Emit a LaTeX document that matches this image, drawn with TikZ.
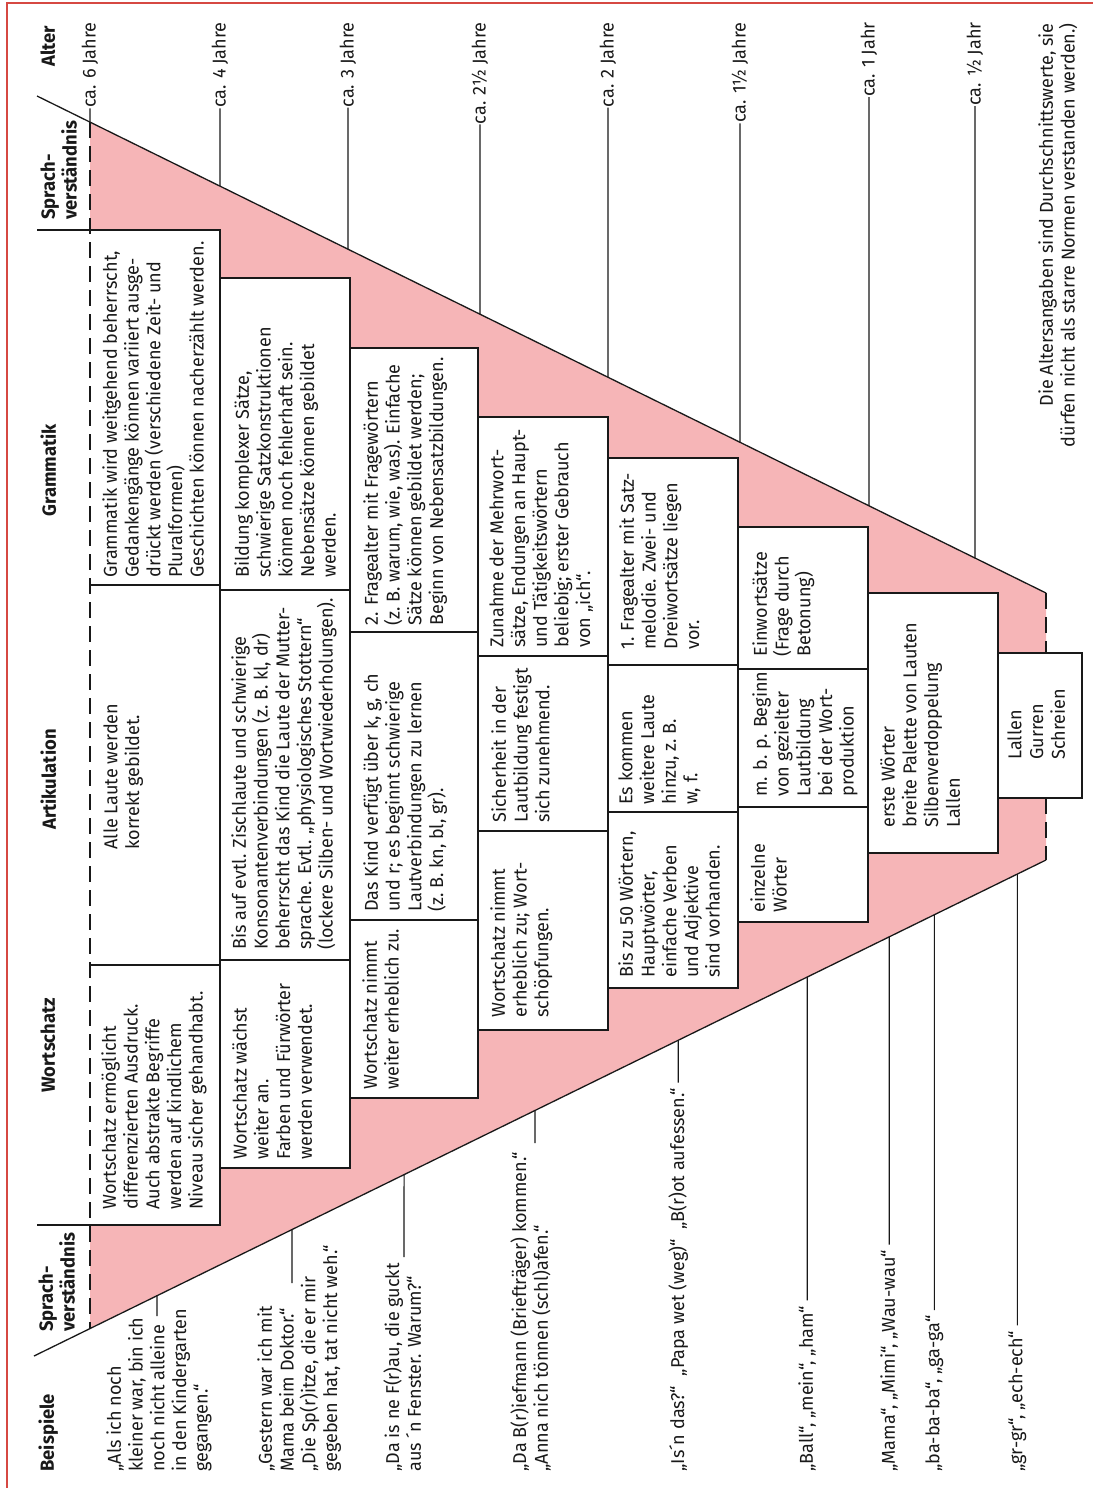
\documentclass[tikz,border=0pt]{standalone}
\usepackage{fontspec}
\setmainfont[FakeStretch=0.97]{Fira Sans}
\usetikzlibrary{calc}
\definecolor{pinkfill}{RGB}{246,181,183}
\definecolor{framered}{RGB}{214,72,66}
\definecolor{ink}{RGB}{25,25,25}
\newcommand\bodyfs{\fontsize{9.3}{10.85}\selectfont}
\newcommand\headfs{\fontsize{9.5}{10.85}\selectfont\bfseries}
\begin{document}
\begin{tikzpicture}[x=0.5pt,y=-0.5pt,
  txt/.style={rotate=90,anchor=north west,inner sep=0pt,align=left,font=\bodyfs,text=ink},
  hdr/.style={rotate=90,anchor=north west,inner sep=0pt,align=left,font=\headfs,text=ink},
  agelab/.style={rotate=90,anchor=east,inner sep=0pt,font=\bodyfs,text=ink},
  note/.style={rotate=90,anchor=north east,inner sep=0pt,align=right,font=\bodyfs,text=ink},
  rule/.style={draw=ink,line width=0.55pt},
  diag/.style={draw=ink,line width=0.65pt},
  dashline/.style={draw=ink,line width=0.55pt,dash pattern=on 8pt off 4pt},
  conn/.style={draw=ink,line width=0.55pt}]
\useasboundingbox (0,0) rectangle (1093,1488);
% frame
\draw[framered,line width=0.8pt] (7,1488) -- (7,3) -- (1093,3);
% diagonal anchors
\coordinate (U0) at (37,96);
\coordinate (U1) at (90,122);
\coordinate (U2) at (1046,593);
\coordinate (L0) at (34,1356);
\coordinate (L1) at (90,1328);
\coordinate (L2) at (1046,860);
% pink area
\fill[pinkfill] (U1) -- (U2) -- (L2) -- (L1) -- cycle;
% white boxes
\fill[white] (90,230) rectangle (220,1225);
\fill[white] (220,278) rectangle (350,1168);
\fill[white] (350,348) rectangle (478,1098);
\fill[white] (478,417) rectangle (608,1030);
\fill[white] (608,458) rectangle (738,988);
\fill[white] (738,527) rectangle (868,922);
\fill[white] (868,593) rectangle (998,853);
\fill[white] (998,653) rectangle (1082,798);
% outlines
\draw[rule] (37,230) -- (220,230) -- (220,1225) -- (37,1225);
\draw[rule] (90,585) -- (220,585);
\draw[rule] (90,965) -- (220,965);
\draw[rule] (220,278) rectangle (350,1168);
\draw[rule] (220,590) -- (350,590);
\draw[rule] (220,960) -- (350,960);
\draw[rule] (350,348) rectangle (478,1098);
\draw[rule] (350,632) -- (478,632);
\draw[rule] (350,920) -- (478,920);
\draw[rule] (478,417) rectangle (608,1030);
\draw[rule] (478,656) -- (608,656);
\draw[rule] (478,831) -- (608,831);
\draw[rule] (608,458) rectangle (738,988);
\draw[rule] (608,665) -- (738,665);
\draw[rule] (608,812) -- (738,812);
\draw[rule] (738,527) rectangle (868,922);
\draw[rule] (738,669) -- (868,669);
\draw[rule] (738,807) -- (868,807);
\draw[rule] (868,593) rectangle (998,853);
\draw[rule] (998,653) rectangle (1082,798);
% dashed borders
\draw[dashline] (U1) -- (L1);
\draw[dashline] (U2) -- (1046,653);
\draw[dashline] (1046,798) -- (L2);
% diagonals
\draw[diag] (U0) -- (U2);
\draw[diag] (L0) -- (L2);
% headers
\node[hdr] (hBsp) at (38,1472) {Beispiele};
\node[hdr] (hSv1) at (38,1332) {Sprach-\\verständnis};
\node[hdr] (hWs) at (40,1093) {Wortschatz};
\node[hdr] (hArt) at (40,830) {Artikulation};
\node[hdr] (hGr) at (40,517) {Grammatik};
\node[hdr] (hSv2) at (40,220) {Sprach-\\verständnis};
\node[hdr] (hAlt) at (40,67) {Alter};
% ages
\node[agelab] (a6) at (90,22) {ca. 6 Jahre};
\node[agelab] (a4) at (220,22) {ca. 4 Jahre};
\node[agelab] (a3) at (348,22) {ca. 3 Jahre};
\node[agelab] (a25) at (480,22) {ca. 2½ Jahre};
\node[agelab] (a2) at (608,22) {ca. 2 Jahre};
\node[agelab] (a15) at (740,22) {ca. 1½ Jahre};
\node[agelab] (a1) at (869,22) {ca. 1 Jahr};
\node[agelab] (a05) at (975,22) {ca. ½ Jahr};
\foreach \a in {a6,a4,a3,a25,a2,a15,a1,a05}
  \draw[conn] (\a.west) -- (intersection of \a.west--\a.east and U1--U2);
\node[note] (fn) at (1038,23) {Die Altersangaben sind Durchschnittswerte, sie\\dürfen nicht als starre Normen verstanden werden.)};
% row 1
\node[txt] (g1) at (102,578) {Grammatik wird weitgehend beherrscht,\\Gedankengänge können variiert ausge-\\drückt werden (verschiedene Zeit- und\\Pluralformen)\\Geschichten können nacherzählt werden.};
\node[txt] (k1) at (103,850) {Alle Laute werden\\korrekt gebildet.};
\node[txt] (w1) at (101,1210) {Wortschatz ermöglicht\\differenzierten Ausdruck.\\Auch abstrakte Begriffe\\werden auf kindlichem\\Niveau sicher gehandhabt.};
% row 2
\node[txt] (g2) at (234,578) {Bildung komplexer Sätze,\\schwierige Satzkonstruktionen\\können noch fehlerhaft sein.\\Nebensätze können gebildet\\werden.};
\node[txt] (k2) at (231,950) {Bis auf evtl. Zischlaute und schwierige\\Konsonantenverbindungen (z.~B. kl, dr)\\beherrscht das Kind die Laute der Mutter-\\sprache. Evtl. „physiologisches Stottern“\\(lockere Silben- und Wortwiederholungen).};
\node[txt] (w2) at (232,1160) {Wortschatz wächst\\weiter an.\\Farben und Fürwörter\\werden verwendet.};
% row 3
\node[txt] (g3) at (363,626) {2. Fragealter mit Fragewörtern\\(z.~B. warum, wie, was). Einfache\\Sätze können gebildet werden;\\Beginn von Nebensatzbildungen.};
\node[txt] (k3) at (363,912) {Das Kind verfügt über k, g, ch\\und r; es beginnt schwierige\\Lautverbindungen zu lernen\\(z.~B. kn, bl, gr).};
\node[txt] (w3) at (362,1090) {Wortschatz nimmt\\weiter erheblich zu.};
% row 4
\node[txt] (g4) at (489,648) {Zunahme der Mehrwort-\\sätze, Endungen an Haupt-\\und Tätigkeitswörtern\\beliebig; erster Gebrauch\\von „ich“.};
\node[txt] (k4) at (491,823) {Sicherheit in der\\Lautbildung festigt\\sich zunehmend.};
\node[txt] (w4) at (490,1018) {Wortschatz nimmt\\erheblich zu; Wort-\\schöpfungen.};
% row 5
\node[txt] (g5) at (619,650) {1. Fragealter mit Satz-\\melodie. Zwei- und\\Dreiwortsätze liegen\\vor.};
\node[txt] (k5) at (618,805) {Es kommen\\weitere Laute\\hinzu, z.~B.\\w, f.};
\node[txt] (w5) at (618,978) {Bis zu 50 Wörtern,\\Hauptwörter,\\einfache Verben\\und Adjektive\\sind vorhanden.};
% row 6
\node[txt] (g6) at (752,657) {Einwortsätze\\(Frage durch\\Betonung)};
\node[txt] (k6) at (752,797) {m. b. p. Beginn\\von gezielter\\Lautbildung\\bei der Wort-\\produktion};
\node[txt] (w6) at (750,913) {einzelne\\Wörter};
% row 7, 8
\node[txt] (s7) at (880,828) {erste Wörter\\breite Palette von Lauten\\Silbenverdoppelung\\Lallen};
\node[txt] (s8) at (1007,760) {Lallen\\Gurren\\Schreien};
% examples
\node[txt] (ex1) at (106,1472) {„Als ich noch\\kleiner war, bin ich\\noch nicht alleine\\in den Kindergarten\\gegangen.“};
\node[txt] (ex2) at (257,1472) {„Gestern war ich mit\\Mama beim Doktor.“\\„Die Sp(r)itze, die er mir\\gegeben hat, tat nicht weh.“};
\node[txt] (ex3) at (383,1472) {„Da is ne F(r)au, die guckt\\aus ´n Fenster. Warum?“};
\node[txt] (ex4) at (510,1472) {„Da B(r)iefmann (Briefträger) kommen.“\\„Anna nich tönnen (schl)afen.“};
\node[txt] (ex5) at (668,1472) {„Is´n das?“ \ „Papa wet (weg)“ \ „B(r)ot aufessen.“};
\node[txt] (ex6) at (798,1472) {„Ball“, „mein“, „ham“};
\node[txt] (ex7) at (880,1472) {„Mama“, „Mimi“, „Wau-wau“};
\node[txt] (ex8) at (925,1472) {„ba-ba-ba“, „ga-ga“};
\node[txt] (ex9) at (1008,1472) {„gr-gr“, „ech-ech“};
% example connectors
\coordinate (e1) at (157,1316);
\coordinate (e2) at (292,1283);
\coordinate (e3) at (404,1257);
\coordinate (e4) at (535,1143);
\draw[conn] (e1) -- ($(L1)!0.0701!(L2)$);
\draw[conn] (e2) -- ($(L1)!0.2113!(L2)$);
\draw[conn] (e3) -- ($(L1)!0.3285!(L2)$);
\draw[conn] (e4) -- ($(L1)!0.4655!(L2)$);
\foreach \e in {ex5,ex6,ex7,ex8,ex9}
  \draw[conn] ([yshift=2.5pt]\e.east) -- (intersection of \e.west--\e.east and L1--L2);
\end{tikzpicture}
\end{document}
